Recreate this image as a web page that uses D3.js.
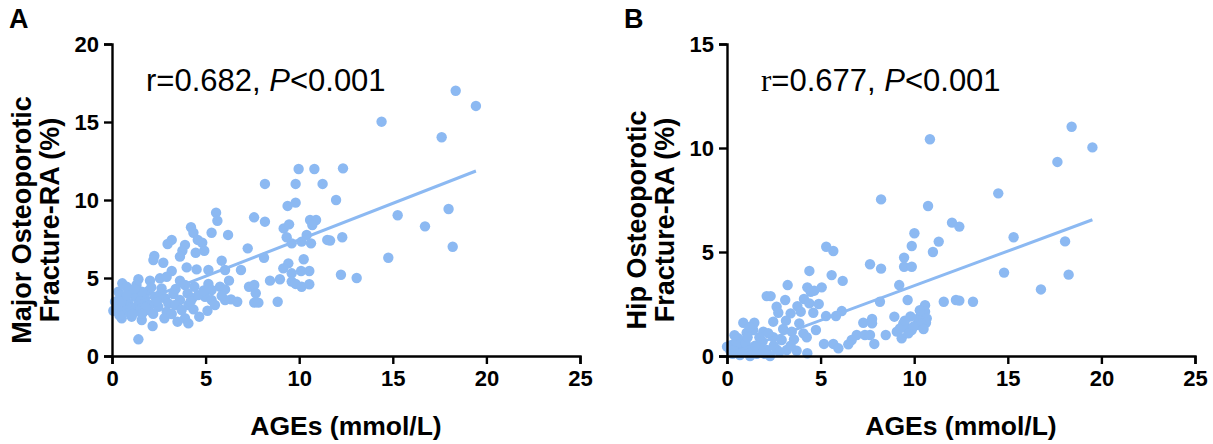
<!DOCTYPE html>
<html>
<head>
<meta charset="utf-8">
<script src="https://cdn.jsdelivr.net/npm/d3@7"></script>
<style>
  html, body { margin: 0; padding: 0; background: #fff; }
  svg text { font-family: Arial, "Liberation Sans", sans-serif; fill: #000; }
</style>
</head>
<body>
<div id="chart"></div>
<script>
// Panel A: AGEs (mmol/L) vs Major Osteoporotic Fracture-RA (%)
const agesA = [18.36, 19.44, 14.4, 17.61, 12.34, 11.97, 15.26, 16.72, 17.98, 12.3, 11.65, 18.2, 14.76, 12.23, 13.07,
  9.97, 10.81, 8.17, 9.81, 11.25, 9.38, 9.81, 7.59, 8.17, 6.2, 9.17, 9.46, 10.58, 10.9, 10.7,
  9.33, 9.6, 10.4, 10.13, 10.63, 11.5, 7.25, 8.12, 10.24, 9.42, 9.15, 9.6, 10.1, 10.54, 6.89,
  6.04, 6.25, 8.44, 8.97, 9.6, 9.81, 10.13, 10.54, 7.32, 7.6, 7.68, 6.36, 6.69, 7.6, 7.82, 8.85, 6.04,
  5.56, 5.63, 4.22, 4.35, 5.32, 3.19, 2.97, 3.9, 4.58, 4.82, 4.93, 3.76, 4.47, 3.63, 2.26, 2.21,
  2.74, 5.86, 3.99, 4.52, 5.15, 3.19, 1.41, 2.03, 2.56, 2.92, 0.55, 1.31, 3.63, 3.9, 4.4, 5.15,
  5.77, 2.65, 1.94, 0.34, 0.96, 5.32, 6.04, 3.28, 4.04, 0.6, 1.23, 1.76, 2.3, 2.83, 3.63, 4.29,
  4.97, 5.32, 5.86, 0.16, 0.87, 1.41, 2.03, 3.01, 3.37, 4.08, 5.5, 0.07, 0.69, 1.14, 1.67, 2.92,
  3.72, 4.35, 0.52, 1.05, 1.59, 2.8, 3.19, 3.9, 4.66, 4.08, 2.17, 1.41, 0.43, 0.78, 1.59, 1.31,
  1.94, 0.96, 2.47,
  0.3, 0.5, 0.8, 1.0, 1.2, 1.5, 1.8, 2.1, 2.4, 2.6, 1.1, 0.4, 1.6, 2.2, 3.4, 4.2, 4.6, 3.5, 4.9, 5.1];
const riskA = [17.0, 16.03, 15.02, 14.02, 12.03, 10.0, 9.02, 8.31, 9.42, 7.61, 7.4, 7.0, 6.3, 5.21, 5.0,
  11.99, 11.99, 11.03, 11.03, 11.03, 9.62, 9.83, 8.89, 8.61, 7.76, 8.18, 8.44, 8.72, 8.72, 8.4,
  7.61, 7.22, 7.76, 7.33, 7.22, 7.44, 6.9, 6.3, 6.2, 5.94, 5.62, 5.3, 5.45, 5.45, 5.51,
  5.51, 4.83, 4.83, 4.92, 4.77, 4.62, 4.44, 4.6, 4.44, 4.55, 4.02, 3.63, 3.48, 3.42, 3.42, 3.48, 3.59,
  9.19, 8.67, 8.25, 7.9, 7.9, 7.44, 7.18, 7.12, 7.44, 7.26, 6.75, 6.75, 6.62, 6.37, 6.41, 6.15,
  5.98, 6.11, 5.68, 5.55, 5.51, 5.45, 4.92, 4.83, 4.98, 5.08, 4.66, 4.55, 4.83, 4.55, 4.44, 4.62,
  4.44, 4.33, 4.17, 4.12, 4.12, 4.23, 4.27, 3.97, 4.01, 3.76, 3.8, 3.7, 3.8, 3.7, 3.59, 3.7,
  3.8, 3.59, 3.85, 3.48, 3.37, 3.27, 3.27, 3.37, 3.27, 3.27, 3.27, 2.9, 2.95, 2.9, 2.84, 2.84,
  2.95, 2.99, 2.42, 2.52, 2.31, 2.42, 2.69, 2.42, 2.52, 2.09, 1.92, 1.07, 3.91, 4.44, 4.12, 3.16,
  2.95, 2.73, 3.16,
  3.0, 3.5, 3.9, 3.1, 4.3, 3.5, 3.1, 4.4, 3.5, 4.0, 2.7, 2.6, 2.7, 2.7, 4.3, 3.5, 3.9, 2.2, 4.2, 2.9];
const fitA = [[0.07, 2.81], [19.44, 11.86]];

// Panel B: AGEs (mmol/L) vs Hip Osteoporotic Fracture-RA (%)
const agesB = [18.41, 19.52, 10.84, 17.65, 14.49, 8.23, 10.74, 12.02, 12.41, 10.01, 15.31, 18.06, 11.31, 9.87, 11.0,
  9.46, 7.64, 8.23, 9.46, 9.87, 14.8, 18.25, 9.2, 16.77, 8.17, 9.65, 10.58, 11.58, 12.23, 12.41,
  13.14, 8.94, 7.28, 7.75, 7.75, 6.93, 6.66, 7.37, 7.64, 7.87, 8.48, 9.07, 9.33, 9.42, 9.6,
  9.87, 10.13, 10.22, 10.4, 10.58, 10.67, 10.63, 10.4, 9.95, 9.69, 9.24,
  5.68, 4.4, 5.59, 6.18, 3.24, 2.12, 2.33, 4.29, 4.47, 5.06, 4.66, 3.11, 4.11, 4.4, 4.9,
  2.65, 3.76, 3.94, 4.61, 2.74, 3.4, 6.13, 5.29, 5.82, 2.47, 3.15, 3.86, 0.87, 1.46, 4.75,
  3.46, 4.08, 1.94, 1.4, 1.05, 0.6, 1.73, 2.47, 2.92, 3.58, 4.26, 5.18, 5.68, 5.95, 6.48,
  0.25, 0.43, 0.87, 1.32, 1.76, 2.12, 2.65, 3.19, 3.72, 4.29, 0.69, 1.23, 1.59, 2.3, 0.16, 0.0,
  5.3,
  0.3, 0.5, 0.8, 1.0, 1.1, 1.5, 1.9, 2.0, 2.5, 2.8, 1.2, 0.4, 3.0, 3.4, 2.2, 9.8, 10.3, 10.5, 9.5];
const riskB = [11.02, 10.03, 10.42, 9.33, 7.82, 7.53, 7.21, 6.41, 6.22, 5.9, 5.71, 5.51, 5.5, 5.29, 5.0,
  4.73, 4.41, 4.2, 4.29, 4.29, 4.01, 3.91, 3.41, 3.2, 2.61, 2.69, 2.44, 2.61, 2.69, 2.66,
  2.61, 1.89, 1.6, 1.78, 1.57, 1.01, 0.77, 1.01, 1.01, 0.58, 1.01, 1.17, 0.85, 1.57, 1.33,
  1.25, 1.49, 1.81, 1.97, 2.13, 1.81, 1.6, 1.54, 1.41, 1.09, 1.33,
  5.05, 4.09, 3.89, 3.61, 3.41, 2.88, 2.88, 3.3, 3.09, 3.3, 3.14, 2.69, 2.74, 2.53, 2.5,
  2.37, 2.4, 2.13, 2.08, 2.08, 2.05, 2.16, 1.92, 1.92, 1.65, 1.7, 1.57, 1.6, 1.6, 1.25,
  1.17, 1.09, 1.17, 1.25, 1.12, 0.85, 0.9, 0.9, 0.77, 0.8, 0.9, 0.58, 0.58, 0.37, 0.56,
  0.53, 0.37, 0.45, 0.29, 0.45, 0.29, 0.32, 0.29, 0.25, 0.13, 0.05, 0.0, 0.1, 0.0, 0.29, 0.45,
  5.25,
  0.1, 0.7, 0.2, 0.6, 0.9, 0.5, 0.7, 0.1, 0.5, 0.2, 1.4, 1.0, 1.3, 0.5, 1.1, 1.9, 2.2, 1.3, 1.7];
const fitB = [[0.0, 0.05], [19.52, 6.55]];

const xTicks = [0, 5, 10, 15, 20, 25];
const yTicksA = [0, 5, 10, 15, 20];
const yTicksB = [0, 5, 10, 15];

const panels = [
  { letter: 'A', left: 112, ages: agesA, risk: riskA, fit: fitA, yMax: 20, yTicks: yTicksA,
    yTitle: ['Major Osteoporotic', 'Fracture-RA (%)'], r: '0.682', rFont: 'Arial, "Liberation Sans", sans-serif' },
  { letter: 'B', left: 727, ages: agesB, risk: riskB, fit: fitB, yMax: 15, yTicks: yTicksB,
    yTitle: ['Hip Osteoporotic', 'Fracture-RA (%)'], r: '0.677', rFont: '"Times New Roman", "Liberation Serif", serif' }
];

const W = 1213, H = 444;
const plotTop = 44, plotW = 468, plotH = 312;
const dotColor = '#8cb9f2';

const svg = d3.select('#chart')
  .append('svg')
  .attr('width', W)
  .attr('height', H);

panels.forEach(p => {
  const g = svg.append('g').attr('transform', `translate(${p.left},${plotTop})`);

  const x = d3.scaleLinear().domain([0, 25]).range([0, plotW]);
  const y = d3.scaleLinear().domain([0, p.yMax]).range([plotH, 0]);

  // points
  g.append('g')
    .selectAll('circle')
    .data(p.ages.map((a, i) => [a, p.risk[i]]))
    .enter()
    .append('circle')
    .attr('cx', d => x(d[0]))
    .attr('cy', d => y(d[1]))
    .attr('r', 5.2)
    .attr('fill', dotColor);

  // regression line
  g.append('path')
    .datum(p.fit)
    .attr('d', d3.line().x(d => x(d[0])).y(d => y(d[1])))
    .attr('stroke', dotColor)
    .attr('stroke-width', 3)
    .attr('fill', 'none');

  // axes
  const xAxis = g.append('g')
    .attr('transform', `translate(0,${plotH})`)
    .call(d3.axisBottom(x).tickValues(xTicks).tickSize(8).tickPadding(6).tickFormat(d3.format('d')));
  const yAxis = g.append('g')
    .call(d3.axisLeft(y).tickValues(p.yTicks).tickSize(8).tickPadding(5).tickFormat(d3.format('d')));

  [xAxis, yAxis].forEach(ax => {
    ax.select('.domain').attr('stroke', '#000').attr('stroke-width', 2.4);
    ax.selectAll('.tick line').attr('stroke', '#000').attr('stroke-width', 2.4);
    ax.selectAll('.tick text')
      .attr('fill', '#000')
      .style('font-family', 'Arial, "Liberation Sans", sans-serif')
      .style('font-size', '22px')
      .style('font-weight', 'bold');
  });

  // x title
  g.append('text')
    .attr('x', plotW / 2)
    .attr('y', plotH + 79)
    .attr('text-anchor', 'middle')
    .style('font-size', '26.5px')
    .style('font-weight', 'bold')
    .text('AGEs (mmol/L)');

  // y title, two lines
  p.yTitle.forEach((line, i) => {
    g.append('text')
      .attr('transform', `translate(${-81 + i * 28},${plotH / 2 + 20}) rotate(-90)`)
      .attr('text-anchor', 'middle')
      .style('font-size', '27px')
      .style('font-weight', 'bold')
      .text(line);
  });

  // panel letter
  svg.append('text')
    .attr('x', p.left - 103)
    .attr('y', 28)
    .style('font-size', '27px')
    .style('font-weight', 'bold')
    .text(p.letter);

  // correlation label
  const lab = g.append('text')
    .attr('x', 34)
    .attr('y', 47)
    .style('font-size', '31px');
  lab.append('tspan').style('font-family', p.rFont).text('r');
  lab.append('tspan').text(`=${p.r}, `);
  lab.append('tspan').style('font-style', 'italic').text('P');
  lab.append('tspan').text('<0.001');
});
</script>
</body>
</html>
